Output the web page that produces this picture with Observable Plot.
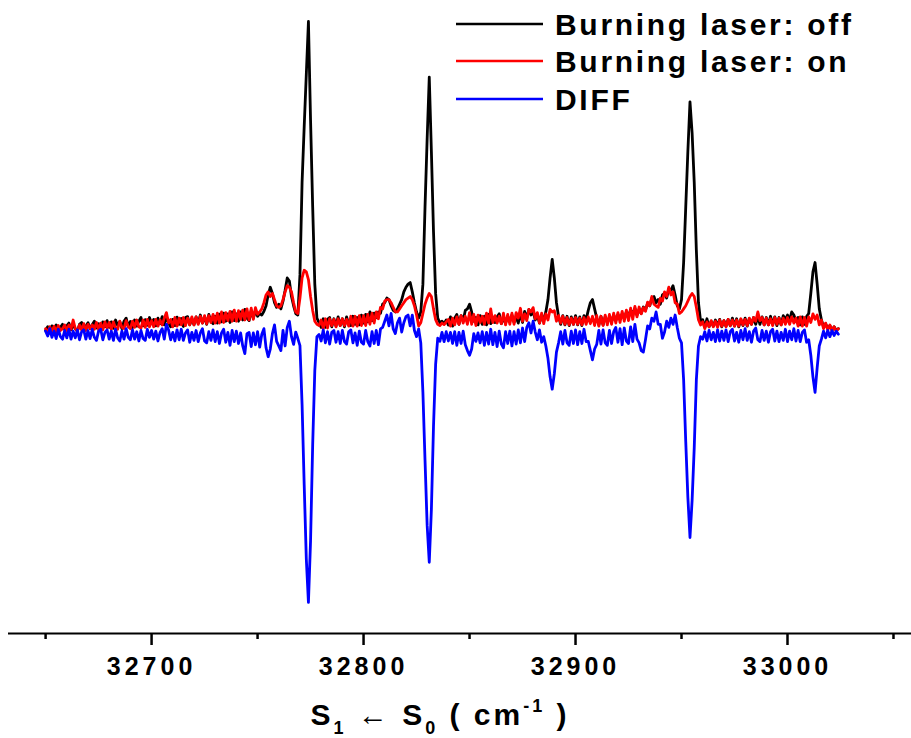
<!DOCTYPE html>
<html>
<head>
<meta charset="utf-8">
<script src="https://cdn.jsdelivr.net/npm/d3@7"></script>
<script src="https://cdn.jsdelivr.net/npm/@observablehq/plot@0.6"></script>
<style>
  html, body { margin: 0; padding: 0; background: #fff; }
  #chart { width: 911px; height: 738px; }
  g[aria-label="x-axis tick label"] text { letter-spacing: 4px; font-size: 25px; font-weight: bold; }
</style>
</head>
<body>
<div id="chart"></div>
<script>
// Spectrum sampled every 1 cm-1 starting at 32650 cm-1 (arbitrary intensity units)
const wavenumberStart = 32650;
const wavenumberStep = 1;

const offSignal = [
  0, 1.2, -0.8, 1.5, 0.2, 1.8, -0.3, 1.0, 2.0, 0.3,
  1.5, 2.4, 0.2, 1.9, 0.6, -0.2, 2.0, 2.6, 0.5, 1.4,
  2.5, 0.6, 1.9, 3.0, 0.8, 2.2, 0.3, 2.8, 1.2, 3.2,
  1.0, 2.8, 0.7, 3.4, 1.6, 2.9, 0.6, 3.0, 4.0, 1.3,
  2.9, 0.9, 3.4, 1.4, 3.0, 4.2, 1.5, 3.5, 1.7, 4.2,
  2.3, 3.6, 1.5, 4.0, 2.2, 4.5, 1.8, 4.6, 2.4, 1.2,
  3.6, 1.6, 4.3, 2.0, 3.9, 1.3, 4.2, 4.5, 1.8, 3.9,
  1.8, 4.4, 2.3, 5.0, 2.4, 4.4, 2.0, 5.2, 3.0, 2.2,
  4.6, 2.4, 5.3, 2.8, 5.6, 3.0, 5.4, 2.6, 6.0, 3.2,
  5.4, 3.0, 6.0, 3.4, 6.8, 4.0, 3.2, 6.4, 4.0, 6.5,
  4.6, 5.5, 5.0, 6.2, 8.0, 11.5, 14.0, 12.0, 9.0, 7.5,
  8.5, 7.0, 9.5, 13.0, 17.0, 16.0, 11.0, 8.0, 5.5, 5.0,
  18, 48, 66, 83, 100, 68, 40, 15, 4, 2.5,
  1.0, 3.8, 1.0, 3.6, 4.2, 1.2, 3.8, 1.5, 4.4, 1.6,
  3.8, 1.2, 4.4, 2.0, 1.6, 4.6, 2.0, 4.2, 1.8, 5.0,
  2.4, 5.2, 2.8, 6.0, 3.2, 5.6, 4.2, 6.0, 5.6, 8.5,
  9.0, 10.5, 10.0, 8.0, 6.5, 6.0, 7.0, 8.5, 10.0, 12.5,
  14.0, 15.0, 15.5, 12.5, 9.0, 6.0, 4.0, 6.0, 15, 40,
  62, 82, 58, 32, 12, 4.0, 2.5, 3.0, 2.2, 3.4,
  1.8, 4.4, 1.4, 4.0, 5.2, 2.0, 4.8, 3.2, 6.5, 7.0,
  8.5, 6.0, 3.0, 4.2, 1.8, 4.8, 2.0, 4.6, 1.8, 5.2,
  2.2, 4.0, 2.6, 4.4, 5.4, 2.2, 4.0, 2.4, 4.6, 3.0,
  5.0, 2.6, 4.2, 2.4, 5.6, 2.6, 6.2, 4.0, 6.8, 5.0,
  6.2, 3.4, 5.0, 2.4, 4.8, 3.6, 6.0, 10.0, 17.0, 23.0,
  17.0, 9.0, 4.5, 2.0, 4.8, 1.8, 4.6, 1.6, 4.4, 2.0,
  4.8, 1.8, 4.4, 1.6, 4.8, 3.5, 6.5, 9.0, 10.0, 7.0,
  4.0, 1.8, 4.6, 1.8, 4.4, 2.8, 4.2, 3.0, 5.0, 3.2,
  5.2, 3.8, 5.4, 4.0, 6.0, 4.8, 6.6, 5.4, 7.2, 5.0,
  6.8, 5.5, 7.6, 6.6, 8.8, 8.0, 10.5, 11.0, 9.0, 10.0,
  8.5, 11.5, 12.0, 10.5, 13.5, 13.0, 14.5, 11.5, 8.0, 7.0,
  10, 22, 40, 58, 74, 64, 48, 26, 9, 3,
  3.5, 1.0, 3.8, 1.2, 3.0, 1.4, 3.4, 1.6, 3.6, 1.2,
  3.2, 1.4, 3.6, 1.5, 4.0, 1.4, 3.8, 1.2, 3.6, 1.6,
  4.0, 1.4, 3.8, 2.0, 4.2, 2.0, 4.6, 2.0, 4.4, 1.8,
  4.2, 1.8, 4.6, 2.0, 4.4, 1.6, 4.2, 1.8, 4.8, 3.6,
  5.0, 3.4, 6.0, 5.0, 3.0, 4.2, 1.8, 4.4, 2.0, 4.5,
  5.5, 12.0, 19.0, 22.0, 15.0, 7.0, 3.5, 1.2, 2.2, 0.6,
  1.6, 0.2, 1.2, 0.0, 0.6
];

const onSignal = [
  0.6, -0.8, 1.2, -0.4, 1.4, -0.5, 1.6, 0.0, 0.6, 1.8,
  0.0, 1.8, 0.4, 3.4, 0.6, -0.2, 1.8, 0.2, 2.2, 0.0,
  2.0, 0.6, 1.8, 0.4, 2.6, 0.3, 2.4, 0.2, 2.8, 0.8,
  2.6, 0.4, 2.8, 0.8, 0.4, 3.0, 1.0, 0.6, 3.2, 1.2,
  0.6, 3.0, 1.0, 3.4, 1.2, 0.8, 3.4, 1.0, 3.6, 1.2,
  3.2, 1.2, 3.6, 1.4, 3.4, 1.8, 4.0, 5.8, 2.4, 3.6,
  1.2, 4.2, 1.4, 4.0, 1.8, 4.2, 1.6, 4.0, 1.8, 4.4,
  1.8, 4.4, 2.0, 4.6, 2.4, 4.8, 2.2, 4.8, 2.6, 5.2,
  2.4, 5.6, 2.4, 6.0, 2.6, 5.8, 3.2, 6.2, 3.0, 6.6,
  3.0, 6.4, 3.6, 6.6, 3.4, 7.0, 3.4, 7.2, 3.6, 7.4,
  5.2, 6.0, 7.0, 9.0, 11.5, 12.5, 11.0, 12.0, 10.0, 8.0,
  7.5, 8.0, 10.0, 12.5, 14.5, 14.0, 12.5, 9.0, 6.0, 5.5,
  10.5, 17.0, 19.5, 19.0, 16.5, 11.0, 6.5, 3.0, 2.0, 1.6,
  3.4, 0.6, 3.8, 0.8, 3.8, 1.6, 3.6, 1.2, 3.8, 1.6,
  3.8, 1.6, 3.6, 1.4, 4.6, 1.4, 4.6, 1.4, 4.8, 1.6,
  4.8, 1.6, 5.2, 2.0, 5.6, 2.4, 6.0, 3.8, 7.5, 7.0,
  9.5, 10.0, 10.0, 9.0, 7.5, 6.0, 6.0, 7.0, 8.0, 9.0,
  10.0, 10.5, 11.0, 10.0, 8.0, 5.0, 1.5, 2.5, 5.5, 8.5,
  10.5, 12.0, 11.0, 7.0, 3.5, 2.0, 1.6, 2.4, 1.9, 2.8,
  3.6, 1.4, 4.0, 1.8, 4.4, 2.0, 4.8, 2.4, 4.6, 2.0,
  5.8, 2.0, 5.2, 1.6, 5.0, 2.6, 4.6, 2.0, 5.6, 2.4,
  7.0, 2.6, 4.8, 2.4, 4.6, 2.2, 5.6, 1.8, 5.2, 2.0,
  5.6, 2.0, 5.8, 4.0, 7.2, 3.0, 5.4, 3.2, 6.8, 6.0,
  7.4, 3.8, 5.8, 2.4, 5.6, 2.2, 5.4, 3.4, 6.8, 6.0,
  6.4, 3.0, 4.8, 2.4, 4.6, 2.0, 4.2, 1.8, 4.0, 2.0,
  4.2, 2.0, 4.0, 1.8, 4.2, 2.0, 4.4, 2.2, 4.6, 1.6,
  4.8, 1.4, 4.6, 1.6, 5.0, 1.8, 5.2, 2.0, 5.6, 2.4,
  5.8, 2.6, 6.2, 3.0, 6.6, 3.2, 7.2, 3.6, 7.8, 4.4,
  7.6, 5.4, 7.4, 6.2, 9.2, 8.0, 11.0, 8.5, 8.0, 7.5,
  10.5, 9.5, 12.5, 11.0, 14.0, 11.5, 12.5, 9.0, 8.6, 5.5,
  6.0, 7.0, 8.0, 9.5, 11.0, 12.0, 11.0, 7.5, 3.5, 1.8,
  2.8, 0.6, 2.8, 1.2, 3.2, 1.2, 3.0, 1.0, 3.4, 1.4,
  3.2, 1.2, 3.6, 1.6, 3.4, 1.4, 3.4, 1.4, 3.8, 1.8,
  3.6, 1.6, 4.0, 2.0, 4.2, 3.0, 6.0, 3.2, 4.2, 1.8,
  4.0, 1.8, 3.8, 1.6, 4.2, 2.0, 4.0, 1.8, 4.0, 2.0,
  4.2, 2.0, 4.4, 2.4, 4.0, 1.4, 4.4, 1.4, 4.2, 1.4,
  4.4, 2.6, 5.4, 3.6, 5.0, 1.8, 3.4, 0.6, 2.4, 0.2,
  1.8, 0.0, 1.2, -0.2, 0.6
];

const diffSignal = [
  -0.2, -1.8, 0.6, -2.2, -0.2, -2.6, 0.4, -2.0, -2.8, 0.0,
  -2.4, 0.4, -2.8, -0.2, -2.4, 0.2, -3.0, -0.4, 0.2, -2.8,
  0.0, -2.6, 0.4, -2.2, -3.2, -0.2, 0.4, -3.0, -0.6, 0.2,
  -2.8, -0.2, -3.2, 0.4, -2.4, -3.4, -0.2, -2.8, 0.6, -2.2,
  -3.0, 0.2, -2.8, -0.4, -3.4, 0.0, -2.6, -3.2, 0.4, -2.2,
  0.0, -2.8, -0.2, -3.4, -0.6, 0.6, -2.8, 2.0, 0.2, -3.0,
  -0.6, -3.4, 0.2, -3.0, 0.4, -3.2, -0.8, 0.2, -3.8, -0.6,
  -3.2, 0.0, -3.6, -0.8, 0.6, -3.4, -4.0, -0.4, -3.2, 0.2,
  -3.6, -0.4, -4.2, -0.8, 0.4, -3.8, -0.6, -4.8, 0.0, -3.6,
  -0.2, -4.2, -0.8, -5.0, -7.5, -1.0, -0.6, -5.2, -0.8, -4.6,
  -0.4, -5.4, -1.2, 0.6, -5.6, -8.5, -6.0, -1.0, 1.8, -3.5,
  -5.0, -6.5, 0.0, -5.0, 1.0, 3.0, -2.0, -4.5, -0.5, -2.6,
  -4.9, -24, -50, -74, -88, -68, -37, -13, -2.0, -1.3,
  -3.4, 0.2, -4.0, -0.4, -4.4, -0.6, 0.0, -3.8, -0.4, -4.2,
  0.0, -3.6, -4.4, -0.4, 0.2, -4.0, -0.8, -4.8, -0.2, -3.8,
  -4.4, 0.0, -3.6, -5.0, -0.4, -4.2, 0.0, -4.6, 0.5, 1.0,
  3.0, 5.0, 1.5, 5.5, 0.5, -1.0, 2.5, 4.0, -0.5, 2.5,
  4.5, 5.0, 1.5, 5.0, 0.0, -2.0, 0.5, -4, -20, -42,
  -63, -75, -58, -31, -11, -2.5, -3.5, -0.6, -3.6, -0.4,
  -3.4, -0.6, -4.2, -0.4, -4.8, -0.6, -4.2, -0.2, -4.6, -6.5,
  -8.0, -6.0, -1.0, -3.5, -0.8, -4.0, -0.4, -4.8, -0.6, -4.4,
  0.4, -4.6, -0.6, -5.2, -0.2, -4.4, -5.6, -0.4, -4.2, -0.2,
  -5.0, -0.4, -4.4, 0.2, -4.0, 0.8, -3.6, 1.0, 2.5, -0.8,
  3.0, -0.5, -3.0, 0.2, -3.8, -2.0, -5.0, -9.0, -15.0, -19.0,
  -14.0, -7.0, -4.0, -0.4, -4.4, 0.0, -4.0, -4.8, -0.2, -4.2,
  0.2, -4.6, -0.4, -4.2, 0.4, -3.6, -3.5, -6.5, -9.5, -6.0,
  -4.5, 0.0, -4.4, 0.2, -4.0, -4.8, 0.0, -4.2, -0.4, 1.0,
  -3.8, 0.6, -4.6, 0.8, -3.4, -4.2, 1.2, -3.6, 2.0, -2.8,
  -4.0, -6.5, -7.0, -3.0, 1.5, 0.5, 4.0, 3.0, 6.0, 2.0,
  2.0, -2.5, -0.5, 3.0, 1.0, 4.0, 2.0, 5.0, 1.0, -2.5,
  -4, -16, -36, -54, -67, -55, -38, -16, -5, -2.0,
  -2.8, -0.4, -3.4, 0.0, -3.0, -0.6, -3.6, 0.2, -3.4, -0.2,
  -3.2, 0.2, -3.6, -0.4, 0.4, -3.4, -0.6, -3.8, 0.0, -3.0,
  0.6, -3.2, -0.4, -3.8, -0.2, 0.8, -3.0, -3.6, 0.0, -3.2,
  -0.2, -3.8, -0.4, 0.4, -3.4, -0.2, -3.6, -0.6, -3.2, 0.4,
  -3.6, -0.2, -3.0, 0.6, -3.4, 0.0, -3.6, -0.6, 0.2, -3.8,
  -3.0, -8.0, -15.0, -20.0, -12.0, -5.0, -2.8, -0.2, -2.4, 0.0,
  -2.0, 0.0, -1.6, -0.2, -1.2
];

const seriesNames = ["Burning laser: off", "Burning laser: on", "DIFF"];
const seriesColors = ["#000000", "#ff0000", "#0000ff"];
const seriesValues = [offSignal, onSignal, diffSignal];

const majorTicks = [32700, 32800, 32900, 33000];
const minorTicks = [32650, 32750, 32850, 32950, 33050];

const xDomain = [32632.5, 33058.5];
const yDomain = [-98.06, 100];

// Build a long table for the line mark
const data = [];
seriesValues.forEach((values, s) => {
  values.forEach((v, i) => {
    data.push({wavenumber: wavenumberStart + i * wavenumberStep, intensity: v, series: seriesNames[s]});
  });
});

const W = 911, H = 738;
const FONT = "'Liberation Sans', Arial, sans-serif";
const chart = Plot.plot({
  width: W,
  height: H,
  marginLeft: 8,
  marginRight: 0,
  marginTop: 21,
  marginBottom: 105,
  style: {
    fontFamily: FONT,
    fontWeight: "bold",
    background: "#fff",
    overflow: "visible"
  },
  x: {domain: xDomain, label: null},
  y: {domain: yDomain, axis: null, label: null},
  color: {domain: seriesNames, range: seriesColors},
  marks: [
    Plot.ruleY([yDomain[0]], {stroke: "#000", strokeWidth: 2}),
    Plot.axisX({ticks: minorTicks, tickSize: 6, strokeWidth: 2.5, tickFormat: () => "", label: null}),
    Plot.axisX({
      ticks: majorTicks, tickSize: 12, tickPadding: 12, strokeWidth: 2.5,
      tickFormat: d => String(d), fontSize: 25, label: null
    }),
    Plot.line(data, {
      x: "wavenumber", y: "intensity", z: "series", stroke: "series",
      strokeWidth: 2.8, strokeLinejoin: "round"
    })
  ]
});

const svg = d3.select(chart);
// style tick labels (bold, wide-spaced like the original)
svg.selectAll("text").each(function() {
  const t = (this.textContent || "").trim();
  if (/^\d{5}$/.test(t)) {
    d3.select(this)
      .attr("font-size", 25)
      .attr("letter-spacing", "4")
      .style("font-size", "25px")
      .style("font-weight", "bold")
      .style("letter-spacing", "4px");
  }
});

// Axis title: S1 <- S0 ( cm-1 )
const title = svg.append("text")
  .attr("x", 440).attr("y", 725)
  .attr("text-anchor", "middle")
  .style("font-family", FONT)
  .style("font-size", "30px").style("font-weight", "bold")
  .style("letter-spacing", "3px")
  .attr("fill", "#000");
title.append("tspan").text("S");
title.append("tspan").style("font-size", "18px").attr("dy", 9).text("1");
title.append("tspan").attr("dy", -9).text(" \u2190 S");
title.append("tspan").style("font-size", "18px").attr("dy", 9).text("0");
title.append("tspan").attr("dy", -9).text(" ( cm");
title.append("tspan").style("font-size", "18px").attr("dy", -13).text("-1");
title.append("tspan").attr("dy", 13).text(" )");

// Legend (top right, inside plot)
const legend = svg.append("g");
const legendY = [24, 61, 99];
seriesNames.forEach((name, i) => {
  legend.append("line")
    .attr("x1", 456).attr("x2", 543)
    .attr("y1", legendY[i]).attr("y2", legendY[i])
    .attr("stroke", seriesColors[i]).attr("stroke-width", 2.5);
  legend.append("text")
    .attr("x", 555).attr("y", legendY[i] + 11)
    .attr("text-anchor", "start")
    .style("font-family", FONT)
    .style("font-size", "30px").style("font-weight", "bold")
    .style("letter-spacing", "2.7px")
    .attr("fill", "#000")
    .text(name);
});

document.getElementById("chart").appendChild(chart);
</script>
</body>
</html>
